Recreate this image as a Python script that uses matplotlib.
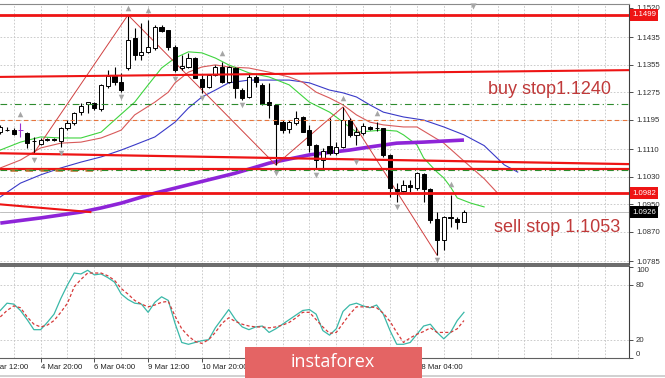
import matplotlib
matplotlib.use('Agg')
import matplotlib.pyplot as plt
from matplotlib.patches import Rectangle
from matplotlib.transforms import blended_transform_factory

plt.rcParams['font.family'] = ['Liberation Sans', 'DejaVu Sans']

# ---------------- data (EURUSD H4) ----------------
opens = [1.1159, 1.1165, 1.1165, 1.1165, 1.1157, 1.1133, 1.1125, 1.1136, 1.1138, 1.1133,
         1.1171, 1.1186, 1.1217, 1.1241, 1.1244, 1.1226, 1.1293, 1.1322, 1.1304, 1.1345,
         1.1432, 1.1383, 1.1392, 1.1403, 1.1464, 1.1455, 1.1406, 1.1345, 1.1348, 1.1374,
         1.1313, 1.1290, 1.1325, 1.1348, 1.1304, 1.1345, 1.1281, 1.1261, 1.1319, 1.1296,
         1.1246, 1.1238, 1.1188, 1.1168, 1.1186, 1.1203, 1.1165, 1.1122, 1.1078, 1.1119,
         1.1098, 1.1116, 1.1194, 1.1151, 1.1157, 1.1174, 1.1171, 1.1171, 1.1093, 1.0994,
         1.0988, 1.1006, 1.0997, 1.1038, 1.0994, 1.0907, 1.0846, 1.0913, 1.0907, 1.0898]
highs = [1.1180, 1.1174, 1.1171, 1.1186, 1.1159, 1.1145, 1.1142, 1.1142, 1.1142, 1.1174,
         1.1194, 1.1217, 1.1244, 1.1246, 1.1246, 1.1299, 1.1339, 1.1348, 1.1331, 1.1499,
         1.1461, 1.1476, 1.1484, 1.1470, 1.1470, 1.1455, 1.1412, 1.1383, 1.1389, 1.1377,
         1.1325, 1.1328, 1.1354, 1.1362, 1.1351, 1.1348, 1.1287, 1.1331, 1.1325, 1.1302,
         1.1302, 1.1241, 1.1194, 1.1194, 1.1220, 1.1206, 1.1180, 1.1125, 1.1113, 1.1200,
         1.1130, 1.1232, 1.1200, 1.1174, 1.1186, 1.1177, 1.1188, 1.1171, 1.1096, 1.1011,
         1.1020, 1.1020, 1.1043, 1.1040, 1.0997, 1.0927, 1.0916, 1.0977, 1.0913, 1.0933]
lows = [1.1154, 1.1162, 1.1151, 1.1145, 1.1113, 1.1098, 1.1122, 1.1133, 1.1133, 1.1116,
        1.1165, 1.1180, 1.1209, 1.1215, 1.1223, 1.1220, 1.1287, 1.1296, 1.1275, 1.1339,
        1.1368, 1.1368, 1.1389, 1.1397, 1.1450, 1.1397, 1.1333, 1.1339, 1.1345, 1.1316,
        1.1273, 1.1287, 1.1322, 1.1302, 1.1302, 1.1258, 1.1252, 1.1258, 1.1290, 1.1238,
        1.1200, 1.1064, 1.1157, 1.1157, 1.1180, 1.1159, 1.1101, 1.1055, 1.1055, 1.1093,
        1.1093, 1.1113, 1.1145, 1.1122, 1.1151, 1.1165, 1.1162, 1.1087, 1.0971, 1.0956,
        1.0985, 1.0985, 1.0991, 1.0956, 1.0895, 1.0802, 1.0817, 1.0884, 1.0878, 1.0898]
closes = [1.1174, 1.1166, 1.1154, 1.1165, 1.1127, 1.1133, 1.1136, 1.1138, 1.1135, 1.1171,
          1.1186, 1.1215, 1.1235, 1.1246, 1.1229, 1.1296, 1.1322, 1.1304, 1.1281, 1.1426,
          1.1383, 1.1392, 1.1406, 1.1464, 1.1452, 1.1406, 1.1339, 1.1351, 1.1374, 1.1316,
          1.1290, 1.1325, 1.1348, 1.1304, 1.1348, 1.1287, 1.1258, 1.1319, 1.1304, 1.1241,
          1.1238, 1.1183, 1.1165, 1.1188, 1.1200, 1.1159, 1.1122, 1.1078, 1.1104, 1.1098,
          1.1116, 1.1194, 1.1151, 1.1159, 1.1177, 1.1168, 1.1170, 1.1093, 1.0997, 1.0988,
          1.1006, 1.1000, 1.1040, 1.0994, 1.0904, 1.0846, 1.0913, 1.0910, 1.0898, 1.0926]

# Alligator lines (bar index, price)
lips_idx = [0, 3, 6, 9, 12, 15, 17, 20, 22, 24, 26, 28, 30, 32, 34, 37, 40, 43, 46, 49, 51,
            53, 55, 57, 59, 60, 62, 63, 65, 66, 67, 68, 70, 72]
lips_val = [1.1107, 1.1130, 1.1145, 1.1142, 1.1142, 1.1159, 1.1194, 1.1246, 1.1296, 1.1345,
            1.1374, 1.1392, 1.1389, 1.1374, 1.1354, 1.1331, 1.1319, 1.1296, 1.1246, 1.1217,
            1.1188, 1.1159, 1.1162, 1.1165, 1.1162, 1.1151, 1.1122, 1.1084, 1.1043, 1.1026,
            1.1000, 1.0968, 1.0953, 1.0942]
teeth_idx = [0, 3, 6, 9, 12, 15, 17, 18, 20, 23, 25, 26, 28, 30, 32, 34, 37, 40, 43, 45, 47,
             49, 51, 53, 55, 57, 60, 62, 66, 69, 72, 74]
teeth_val = [1.1055, 1.1078, 1.1113, 1.1127, 1.1130, 1.1142, 1.1157, 1.1165, 1.1209, 1.1246,
             1.1275, 1.1302, 1.1333, 1.1348, 1.1354, 1.1348, 1.1345, 1.1333, 1.1319, 1.1304,
             1.1275, 1.1258, 1.1238, 1.1209, 1.1188, 1.1180, 1.1174, 1.1174, 1.1127, 1.1075,
             1.1024, 1.0982]
jaw_idx = [0, 3, 6, 9, 12, 15, 18, 20, 23, 26, 28, 30, 32, 34, 37, 40, 43, 46, 49, 51, 53,
           55, 57, 60, 63, 66, 69, 72, 75, 77]
jaw_val = [1.0971, 1.1011, 1.1035, 1.1055, 1.1072, 1.1087, 1.1107, 1.1122, 1.1145, 1.1188,
           1.1229, 1.1261, 1.1281, 1.1302, 1.1310, 1.1310, 1.1310, 1.1302, 1.1281, 1.1273,
           1.1261, 1.1238, 1.1217, 1.1203, 1.1194, 1.1174, 1.1151, 1.1120, 1.1064, 1.1043]
ma200_idx = [0, 6, 12, 15, 18, 23, 29, 35, 40, 46, 52, 55, 59, 63, 69]
ma200_val = [1.0895, 1.0910, 1.0927, 1.0939, 1.0953, 1.0982, 1.1011, 1.1040, 1.1069, 1.1093,
             1.1107, 1.1116, 1.1127, 1.1130, 1.1136]

# ZigZag vertices (bar index)
zz_idx = [5, 19, 41, 51, 65]
zz_kind = ['L', 'H', 'L', 'H', 'L']

# Fractal arrows (bar index, price)
frac_up_idx = [3, 19, 22, 33, 51, 56, 67]
frac_up_val = [1.1212, 1.1519, 1.1513, 1.1390, 1.1258, 1.1214, 1.1008]
frac_dn_idx = [5, 9, 18, 26, 30, 36, 41, 47, 53, 59, 65]
frac_dn_val = [1.1078, 1.1099, 1.1262, 1.1312, 1.1258, 1.1238, 1.1040, 1.1035, 1.1072, 1.0942, 1.0788]

# Horizontal levels / trend lines
level_top = 1.1499
level_buy = 1.1240
level_orange = 1.1195
level_sell = 1.1053
level_low = 1.0982
bid = 1.0926
trend_upper = [(-1, 1.1319), (94, 1.1339)]
trend_mid = [(-1, 1.1098), (94, 1.1066)]
trend_low = [(-1, 1.0951), (13.4, 1.0927)]
brown_seg = [(1.5, 1.1050), (15, 1.1050)]

# Stochastic (per bar)
stoch_main = [52, 60, 59, 52, 42, 31, 31, 39, 48, 65, 80, 93, 92, 96, 91, 92, 88, 83, 70, 64,
              60, 59, 50, 61, 67, 63, 38, 17, 15, 17, 19, 20, 33, 43, 53, 42, 34, 31, 34, 35,
              28, 32, 37, 42, 47, 52, 53, 48, 30, 25, 32, 51, 58, 60, 57, 55, 58, 48, 30, 15,
              15, 17, 26, 35, 37, 28, 21, 28, 41, 50]
stoch_signal = [45, 52, 57, 55, 45, 37, 34, 36, 41, 50, 60, 78, 86, 93, 93, 93, 90, 85, 76, 70,
                63, 59, 56, 58, 61, 62, 46, 32, 24, 18, 16, 20, 28, 38, 44, 40, 37, 35, 34, 34,
                33, 34, 36, 39, 44, 50, 50, 42, 34, 27, 28, 38, 48, 56, 56, 56, 55, 49, 40, 28,
                17, 22, 26, 29, 33, 28, 28, 28, 32, 41]

price_ticks = [1.1520, 1.1435, 1.1355, 1.1275, 1.1195, 1.1110, 1.1030, 1.0950, 1.0870, 1.0785]
stoch_ticks = [100, 80, 20, 0]
tick_pos = [6, 14, 22, 30, 38, 46, 54, 62]
date_pos = [-2, 6, 14, 22, 30, 62]
date_labels = ['3 Mar 12:00', '4 Mar 20:00', '6 Mar 04:00', '9 Mar 12:00', '10 Mar 20:00',
               '18 Mar 04:00']

# ---------------- figure ----------------
W, H = 665, 378
fig = plt.figure(figsize=(W / 100, H / 100), dpi=100)
fig.patch.set_facecolor('white')

def fb(top, bottom):
    return 1 - bottom / H, (bottom - top) / H

b1, h1 = fb(4, 264)
b2, h2 = fb(266, 358)
ax = fig.add_axes([0, b1, 629 / W, h1])
ax2 = fig.add_axes([0, b2, 629 / W, h2])

XL = (-0.045, 93.56)
n = len(opens)
xs = list(range(n))

grid_kw = dict(color='#c4c4c4', lw=0.6, dashes=(2, 2), zorder=0)
vgrid = list(range(2, 94, 4))

# ---- main panel ----
ax.set_xlim(*XL)
ax.set_ylim(1.07763, 1.15308)
for g in vgrid:
    ax.axvline(g, **grid_kw)
for t in price_ticks[1:]:
    ax.axhline(t, **grid_kw)

# alligator + MA200
ax.plot(jaw_idx, jaw_val, color='#3a3ac8', lw=0.8, zorder=2)
ax.plot(teeth_idx, teeth_val, color='#d85a5a', lw=0.8, zorder=2)
ax.plot(lips_idx, lips_val, color='#3fd43f', lw=0.8, zorder=2)
ax.plot(ma200_idx, ma200_val, color='#8e24d8', lw=2.6, zorder=2, solid_capstyle='butt')

# zigzag
zz_val = [lows[i] if k == 'L' else highs[i] for i, k in zip(zz_idx, zz_kind)]
ax.plot(zz_idx, zz_val, color='#d04040', lw=0.7, zorder=2)

# candles
wick_col = ['#9b30d0' if i == 3 else 'black' for i in xs]
ax.vlines(xs, lows, highs, colors=wick_col, lw=0.8, zorder=3)
bodies_bottom = [min(o, c) for o, c in zip(opens, closes)]
bodies_h = [abs(c - o) for o, c in zip(opens, closes)]
face = ['white' if c >= o else 'black' for o, c in zip(opens, closes)]
ax.bar(xs, bodies_h, bottom=bodies_bottom, width=0.62, color=face,
       edgecolor=wick_col, linewidth=0.7, zorder=3.5)

# levels
RED = '#ee1414'
ax.axhline(level_top, color=RED, lw=2.0, zorder=4)
ax.axhline(level_low, color=RED, lw=2.0, zorder=4)
ax.axhline(level_sell, color=RED, lw=1.6, zorder=4)
ax.plot(*zip(*trend_upper), color=RED, lw=1.5, zorder=4)
ax.plot(*zip(*trend_mid), color=RED, lw=1.6, zorder=4)
ax.plot(*zip(*trend_low), color=RED, lw=1.5, zorder=4)
ax.plot(*zip(*brown_seg), color='#b8702a', lw=1.8, dashes=(3, 3), zorder=4.2)
ax.axhline(level_buy, color='#2e8b2e', lw=0.8, dashes=(6, 3, 1, 3), zorder=4)
ax.axhline(level_sell - 0.0003, color='#2e8b2e', lw=0.8, dashes=(6, 3, 1, 3), zorder=4.3)
ax.axhline(level_orange, color='#e8763e', lw=0.8, dashes=(4, 3), zorder=4)
ax.axhline(bid, color='#b4b4b4', lw=0.6, zorder=1)

# fractals
ax.scatter(frac_up_idx, frac_up_val, marker='^', s=16, color='#a6a6a6', zorder=5, linewidths=0)
ax.scatter(frac_dn_idx, frac_dn_val, marker='v', s=16, color='#a6a6a6', zorder=5, linewidths=0)
ax.scatter([70.4], [1.1524], marker='v', s=20, color='#a6a6a6', zorder=6, clip_on=False, linewidths=0)

# annotations
ax.text(72.6, 1.12841, 'buy stop1.1240', color='#c03a3a', fontsize=13, ha='left', va='center', zorder=6)
ax.text(73.4, 1.08808, 'sell stop 1.1053', color='#c03a3a', fontsize=13, ha='left', va='center', zorder=6)

# axes style
ax.set_xticks([])
ax.yaxis.tick_right()
ax.set_yticks(price_ticks)
ax.set_yticklabels([f'{t:.4f}' for t in price_ticks])
ax.tick_params(axis='y', direction='out', length=3, width=0.6, colors='#303030',
               labelsize=5.6, pad=2)
ax.spines['left'].set_visible(False)
ax.spines['right'].set_color('#404040')
ax.spines['top'].set_color('#8a8a8a')
ax.spines['bottom'].set_color('#505050')
ax.spines['bottom'].set_linewidth(1.2)

tr = blended_transform_factory(ax.transAxes, ax.transData)
for val, bg in [(level_top, RED), (level_low, RED), (bid, 'black')]:
    ax.text(1.0 + 3 / 629, val, f'{val:.4f}', transform=tr, ha='left', va='center',
            fontsize=5.6, color='white', zorder=10, clip_on=False,
            bbox=dict(boxstyle='square,pad=0.32', fc=bg, ec='none'))

# ---- stochastic panel ----
ax2.set_xlim(*XL)
ax2.set_ylim(0.4, 100.7)
for g in vgrid:
    ax2.axvline(g, **grid_kw)
for t in [80, 20]:
    ax2.axhline(t, **grid_kw)
ax2.plot(xs, stoch_main, color='#3ab8a8', lw=0.9, zorder=3)
ax2.plot(xs, stoch_signal, color='#d63a3a', lw=0.9, dashes=(2.5, 1.8), zorder=3)

ax2.yaxis.tick_right()
ax2.set_yticks(stoch_ticks)
ax2.set_yticklabels([str(t) for t in stoch_ticks])
ax2.tick_params(axis='y', direction='out', length=3, width=0.6, colors='#303030',
                labelsize=5.6, pad=2)
ylabels = ax2.get_yticklabels()
ylabels[0].set_va('top')
ylabels[-1].set_va('bottom')
ax2.set_xticks(tick_pos)
ax2.set_xticklabels([])
ax2.tick_params(axis='x', direction='out', length=3, width=0.6, colors='#303030')
ax2.spines['left'].set_visible(False)
ax2.spines['right'].set_color('#404040')
ax2.spines['top'].set_color('#505050')
ax2.spines['top'].set_linewidth(1.2)
ax2.spines['bottom'].set_color('#606060')

tr2 = blended_transform_factory(ax2.transData, ax2.transAxes)
for p, lab in zip(date_pos, date_labels):
    ax2.text(p, -0.10, lab, transform=tr2, ha='left', va='center', fontsize=5.6,
             color='#202020', clip_on=False)

# bottom frame line
fig.add_artist(plt.Line2D([0, 1], [1 - 376 / H, 1 - 376 / H], transform=fig.transFigure,
                          color='#c8c8c8', lw=1.2))

# watermark
fig.add_artist(Rectangle((245 / W, 0), (422 - 245) / W, (378 - 347) / H,
                         transform=fig.transFigure, facecolor='#e46464', edgecolor='none',
                         zorder=20))
fig.text(333 / W, 1 - 362 / H, 'instaforex', color='white', fontsize=13,
         family=['Open Sans', 'DejaVu Sans'], ha='center', va='center', zorder=21)

fig.savefig('out.png', dpi=100, facecolor='white')
